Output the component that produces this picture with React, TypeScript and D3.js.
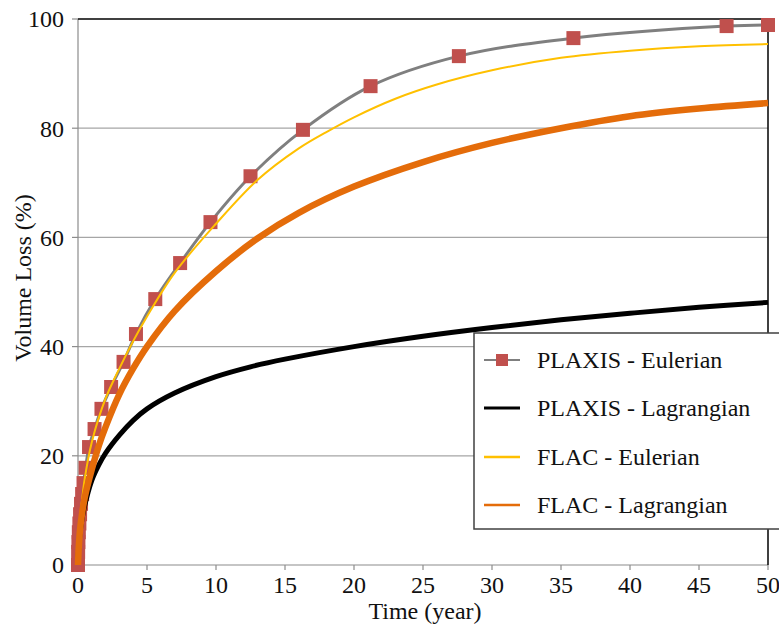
import * as d3 from "d3";
import React from "react";

// PLAXIS - Eulerian (marker points)
const plaxisEulT = [0, 0.01, 0.03, 0.06, 0.1, 0.15, 0.22, 0.3, 0.4, 0.55, 0.8, 1.2, 1.7, 2.4, 3.3, 4.2, 5.6, 7.4, 9.6, 12.5, 16.3, 21.2, 27.6, 35.9, 47, 50];
const plaxisEulV = [0, 2.4, 4.2, 6, 7.6, 9.3, 11.2, 13, 15, 17.8, 21.6, 24.9, 28.6, 32.6, 37.2, 42.3, 48.7, 55.3, 62.8, 71.2, 79.7, 87.7, 93.2, 96.5, 98.7, 98.9];

// PLAXIS - Lagrangian
const plaxisLagT = [0, 0.05, 0.2, 0.5, 1, 1.5, 2, 3, 4, 5, 7, 10, 12.5, 15, 20, 25, 30, 35, 40, 45, 50];
const plaxisLagV = [0, 3, 7, 11, 15.5, 18.3, 20.5, 23.8, 26.5, 28.6, 31.5, 34.5, 36.3, 37.7, 40, 41.9, 43.5, 44.9, 46.1, 47.2, 48.1];

// FLAC - Eulerian
const flacEulT = [0, 0.1, 0.3, 0.5, 1, 2, 3, 4, 5, 7, 10, 13, 16, 18, 20, 23, 26, 30, 35, 40, 45, 50];
const flacEulV = [0, 7, 12, 16, 22.5, 30.5, 36, 41, 45.5, 53.5, 62.5, 70.5, 76.3, 79.3, 82, 85.4, 88, 90.6, 92.9, 94.2, 95, 95.4];

// FLAC - Lagrangian
const flacLagT = [0, 0.05, 0.15, 0.3, 0.5, 1, 1.5, 2, 3, 4, 5, 7, 10, 13, 16, 20, 25, 30, 35, 40, 45, 50];
const flacLagV = [0, 3, 6.5, 9.5, 12.5, 17.5, 21.8, 25.3, 31.3, 36, 40, 46.5, 53.8, 59.8, 64.5, 69.3, 73.8, 77.3, 80, 82.2, 83.6, 84.6];

const xTicks = [0, 5, 10, 15, 20, 25, 30, 35, 40, 45, 50];
const yTicks = [0, 20, 40, 60, 80, 100];

const FONT = "'Liberation Serif', 'DejaVu Serif', serif";

const series = [
  { name: "PLAXIS - Eulerian", t: plaxisEulT, v: plaxisEulV, color: "#7f7f7f", width: 3, legendWidth: 2, marker: true },
  { name: "PLAXIS - Lagrangian", t: plaxisLagT, v: plaxisLagV, color: "#000000", width: 5, legendWidth: 3, marker: false },
  { name: "FLAC - Eulerian", t: flacEulT, v: flacEulV, color: "#ffc000", width: 2, legendWidth: 2.5, marker: false },
  { name: "FLAC - Lagrangian", t: flacLagT, v: flacLagV, color: "#e46c0a", width: 6.5, legendWidth: 2.5, marker: false },
];

export default function App() {
  const width = 779;
  const height = 626;
  const left = 78;
  const right = 768;
  const top = 19;
  const bottom = 565;

  const x = d3.scaleLinear().domain([0, 50]).range([left, right]);
  const y = d3.scaleLinear().domain([0, 100]).range([bottom, top]);

  const line = d3
    .line<[number, number]>()
    .x((d) => x(d[0]))
    .y((d) => y(d[1]))
    .curve(d3.curveCatmullRom.alpha(0.5));

  const legendX = 474;
  const legendY = 333;
  const rowY = [360, 408, 457, 505];
  const txt = { fontFamily: FONT, fontSize: 24, fill: "#111" };

  return (
    <svg
      width={width}
      height={height}
      style={{ position: "absolute", left: 0, top: 0, background: "#fff" }}
    >
      {/* grid */}
      {yTicks.filter((t) => t > 0 && t < 100).map((t) => (
        <line key={t} x1={left} x2={right} y1={y(t)} y2={y(t)} stroke="#a6a6a6" strokeWidth={1.2} />
      ))}
      {/* axes */}
      <line x1={left} x2={left} y1={top} y2={bottom} stroke="#8c8c8c" strokeWidth={1.2} />
      <line x1={left} x2={right} y1={bottom} y2={bottom} stroke="#8c8c8c" strokeWidth={1.2} />
      <line x1={left} x2={right} y1={top} y2={top} stroke="#000" strokeWidth={1.5} />
      <line x1={right} x2={right} y1={top} y2={bottom} stroke="#000" strokeWidth={1.5} />
      {yTicks.map((t) => (
        <g key={t}>
          <line x1={left - 6} x2={left} y1={y(t)} y2={y(t)} stroke="#8c8c8c" strokeWidth={1.2} />
          <text x={64} y={y(t)} dy="0.35em" textAnchor="end" style={txt}>
            {t}
          </text>
        </g>
      ))}
      {xTicks.map((t) => (
        <g key={t}>
          <line x1={x(t)} x2={x(t)} y1={bottom} y2={bottom + 5} stroke="#8c8c8c" strokeWidth={1.2} />
          <text x={x(t)} y={593} textAnchor="middle" style={txt}>
            {t}
          </text>
        </g>
      ))}
      <text x={425} y={619} textAnchor="middle" style={txt}>
        Time (year)
      </text>
      <text transform={`translate(31,278) rotate(-90)`} textAnchor="middle" style={txt}>
        Volume Loss (%)
      </text>

      {/* series */}
      {series.map((s) => {
        const pts = s.t.map((t, i) => [t, s.v[i]] as [number, number]);
        return (
          <g key={s.name}>
            <path d={line(pts) ?? ""} fill="none" stroke={s.color} strokeWidth={s.width} strokeLinejoin="round" />
            {s.marker &&
              pts.map((p, i) => (
                <rect key={i} x={x(p[0]) - 7} y={y(p[1]) - 7} width={14} height={14} fill="#c0504d" />
              ))}
          </g>
        );
      })}

      {/* legend */}
      <rect x={legendX} y={legendY} width={320} height={196} fill="#fff" stroke="#404040" strokeWidth={1.5} />
      {series.map((s, i) => (
        <g key={s.name}>
          <line x1={484} x2={520} y1={rowY[i]} y2={rowY[i]} stroke={s.color} strokeWidth={s.legendWidth} />
          {s.marker && <rect x={496} y={rowY[i] - 6} width={12} height={12} fill="#c0504d" />}
          <text x={537} y={rowY[i]} dy="0.35em" style={txt}>
            {s.name}
          </text>
        </g>
      ))}
    </svg>
  );
}
